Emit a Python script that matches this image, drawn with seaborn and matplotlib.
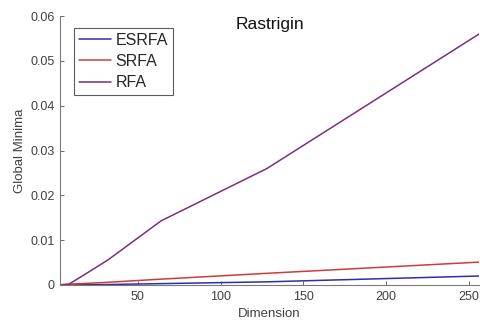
import matplotlib
matplotlib.use("Agg")
import matplotlib.pyplot as plt
import seaborn as sns
import pandas as pd

dimension = [2, 4, 8, 16, 32, 64, 128, 256]
esrfa = [0.0, 0.0, 0.0, 0.00005, 0.0001, 0.0003, 0.0007, 0.0020]
srfa = [0.0, 0.0001, 0.0002, 0.0003, 0.0006, 0.0013, 0.0026, 0.0051]
rfa = [0.0, 0.0, 0.0001, 0.0019, 0.0056, 0.0143, 0.0260, 0.0560]
series_names = ["ESRFA", "SRFA", "RFA"]
colors = ["#2f2fa8", "#d23a3a", "#7b2f7e"]

sns.set_style("white")
plt.rcParams['font.family'] = ['Arial', 'Liberation Sans', 'DejaVu Sans']

rows = []
for name, vals in zip(series_names, [esrfa, srfa, rfa]):
    for d, v in zip(dimension, vals):
        rows.append({"Dimension": d, "Value": v, "Method": name})
df = pd.DataFrame(rows)

fig = plt.figure(figsize=(4.8, 3.22), dpi=100)
ax = fig.add_axes([0.125, 0.115, 0.873, 0.835])
sns.lineplot(data=df, x="Dimension", y="Value", hue="Method",
             hue_order=series_names, palette=colors, linewidth=1.1, ax=ax)

ax.set_xlim(3, 256)
ax.set_ylim(0, 0.06)
ax.set_xticks([50, 100, 150, 200, 250])
ax.set_yticks([0, 0.01, 0.02, 0.03, 0.04, 0.05, 0.06])
ax.set_yticklabels(["0", "0.01", "0.02", "0.03", "0.04", "0.05", "0.06"])
ax.tick_params(direction="in", length=3, colors="#6a6a6a", labelsize=9,
               labelcolor="#404040", width=0.7, bottom=True, left=True,
               pad=4)
for s in ["top", "right"]:
    ax.spines[s].set_visible(False)
for s in ["left", "bottom"]:
    ax.spines[s].set_color("#7a7a7a")
    ax.spines[s].set_linewidth(0.8)

ax.set_xlabel("Dimension", fontsize=9.5, color="#404040", labelpad=4)
ax.set_ylabel("Global Minima", fontsize=9.5, color="#404040", labelpad=3)
ax.text(0.5, 0.995, "Rastrigin", transform=ax.transAxes, ha="center",
        va="top", fontsize=12.5, color="#111111")

leg = ax.legend(loc="upper left", bbox_to_anchor=(0.033, 0.955), frameon=True,
                fontsize=11.5, handlelength=2.0, handletextpad=0.3,
                borderpad=0.3, labelspacing=0.38, fancybox=False,
                borderaxespad=0)
leg.get_frame().set_edgecolor("#333333")
leg.get_frame().set_linewidth(0.8)

fig.savefig("out.png", dpi=100)
